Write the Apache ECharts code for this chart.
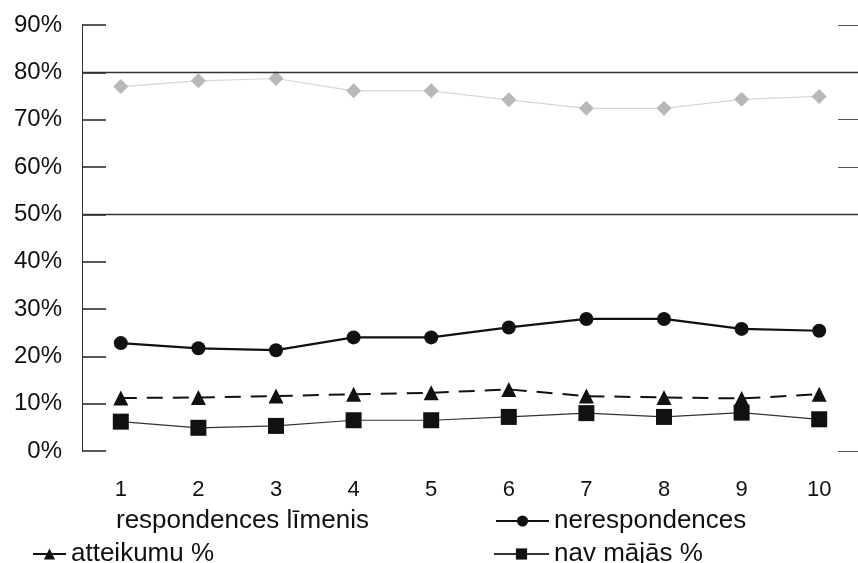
<!DOCTYPE html>
<html>
<head>
<meta charset="utf-8">
<script src="https://cdn.jsdelivr.net/npm/echarts@6/dist/echarts.min.js"></script>
<style>
  html, body { margin: 0; padding: 0; background: #fff; }
  #chart { width: 858px; height: 563px; }
</style>
</head>
<body>
<div id="chart"></div>
<script>
// Response levels per decile group
const categories = ['1', '2', '3', '4', '5', '6', '7', '8', '9', '10'];
const respondencesLimenis = [77.0, 78.2, 78.7, 76.1, 76.1, 74.2, 72.4, 72.4, 74.3, 74.9];
const nerespondences = [22.8, 21.7, 21.3, 24.0, 24.0, 26.1, 27.9, 27.9, 25.8, 25.4];
const atteikumu = [11.2, 11.3, 11.6, 12.0, 12.3, 13.0, 11.6, 11.3, 11.1, 12.0];
const navMajas = [6.2, 4.9, 5.3, 6.5, 6.5, 7.2, 8.0, 7.2, 8.1, 6.7];
const yTicks = [0, 10, 20, 30, 40, 50, 60, 70, 80, 90];

const FONT = '"Liberation Sans", Arial, sans-serif';
const chart = echarts.init(document.getElementById('chart'));

const legendText = { fontFamily: FONT, fontSize: 26, color: '#111' };

chart.setOption({
  animation: false,
  backgroundColor: '#fff',
  grid: { left: 82, top: 25, width: 778, height: 426 },
  xAxis: {
    type: 'category',
    data: categories,
    boundaryGap: true,
    axisLine: { show: false },
    axisTick: { show: false },
    axisLabel: { margin: 28, fontFamily: FONT, fontSize: 22, color: '#111' }
  },
  yAxis: [
    {
      type: 'value',
      min: 0, max: 90, interval: 10,
      axisLine: { show: true, lineStyle: { color: '#333', width: 1 } },
      axisTick: { show: true, inside: true, length: 24, lineStyle: { color: '#222', width: 1.5 } },
      splitLine: { show: false },
      axisLabel: {
        margin: 20, fontFamily: FONT, fontSize: 24, color: '#111',
        formatter: v => yTicks.includes(v) ? v + '%' : ''
      }
    },
    {
      type: 'value',
      position: 'right',
      min: 0, max: 90, interval: 10,
      axisLine: { show: false },
      axisLabel: { show: false },
      splitLine: { show: false },
      axisTick: { show: true, inside: true, length: 20, customValues: [0, 60, 70, 90], lineStyle: { color: '#555', width: 1 } }
    }
  ],
  legend: [
    { left: 75, top: 503, itemWidth: 30, itemHeight: 14, textStyle: legendText, data: ['respondences līmenis'],
      itemStyle: { opacity: 0 }, lineStyle: { opacity: 0 } },
    { left: 490, top: 503, itemWidth: 53, itemHeight: 14, textStyle: legendText, data: ['nerespondences'] },
    { left: 27, top: 536, itemWidth: 33, itemHeight: 14, textStyle: legendText, data: ['atteikumu %'],
      lineStyle: { type: 'solid' } },
    { left: 488, top: 536, itemWidth: 55, itemHeight: 14, textStyle: legendText, data: ['nav mājās %'] }
  ],
  series: [
    {
      name: 'respondences līmenis',
      type: 'line',
      data: respondencesLimenis,
      symbol: 'diamond', symbolSize: 15,
      itemStyle: { color: '#b8b8b8' },
      lineStyle: { color: '#d6d6d6', width: 1.2 },
      markLine: {
        silent: true, symbol: 'none', label: { show: false },
        lineStyle: { color: '#333', width: 1.3, type: 'solid' },
        data: [{ yAxis: 80 }, { yAxis: 50 }]
      }
    },
    {
      name: 'nerespondences',
      type: 'line',
      data: nerespondences,
      symbol: 'circle', symbolSize: 14,
      itemStyle: { color: '#111' },
      lineStyle: { color: '#111', width: 2.2 }
    },
    {
      name: 'atteikumu %',
      type: 'line',
      data: atteikumu,
      symbol: 'triangle', symbolSize: 15,
      itemStyle: { color: '#111' },
      lineStyle: { color: '#111', width: 2, type: [16, 10] }
    },
    {
      name: 'nav mājās %',
      type: 'line',
      data: navMajas,
      symbol: 'rect', symbolSize: 16,
      itemStyle: { color: '#111' },
      lineStyle: { color: '#333', width: 1.2 }
    }
  ]
});
</script>
</body>
</html>
